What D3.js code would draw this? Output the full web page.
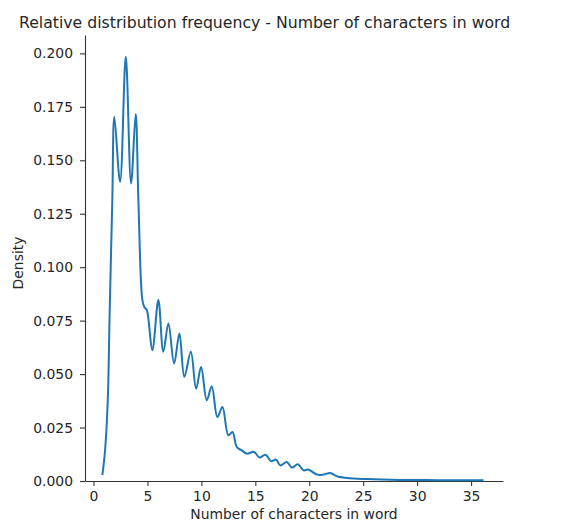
<!DOCTYPE html>
<html>
<head>
<meta charset="utf-8">
<script src="https://cdn.jsdelivr.net/npm/d3@7"></script>
<style>
  body { margin: 0; background: #fff; }
  text { font-family: "DejaVu Sans", sans-serif; fill: #262626; }
</style>
</head>
<body>
<div id="chart"></div>
<script>
// KDE curve: word length -> density
var wordLength = [0.82, 1.07, 1.32, 1.50, 1.74, 1.93, 2.46, 2.99, 3.48, 3.91, 4.16, 4.53, 4.71, 4.94,
  5.45, 6.01, 6.47, 6.94, 7.47, 7.96, 8.42, 9.02, 9.51, 9.97, 10.50, 10.96, 11.48, 11.95,
  12.50, 12.88, 13.28, 13.75, 14.21, 14.89, 15.38, 15.94, 16.47, 16.93, 17.30, 17.92,
  18.39, 18.94, 19.46, 19.94, 20.71, 21.32, 21.94, 22.56, 23.49, 25.34, 28.43, 32.0, 36.16];
var density = [0.0027, 0.0144, 0.0378, 0.0799, 0.131, 0.1703, 0.1399, 0.1984, 0.1392, 0.1716, 0.131, 0.0846, 0.0814, 0.0799,
  0.0612, 0.0846, 0.0604, 0.0737, 0.0549, 0.0690, 0.0487, 0.0604, 0.0432, 0.0533, 0.0378, 0.0443, 0.0299, 0.0346,
  0.0214, 0.0229, 0.0159, 0.0143, 0.0128, 0.0136, 0.0110, 0.0123, 0.0092, 0.0100, 0.0073, 0.0089,
  0.0063, 0.0078, 0.0050, 0.0053, 0.0030, 0.0030, 0.0037, 0.0022, 0.0014, 0.0009, 0.0005, 0.0004, 0.0003];

var xTicks = [0, 5, 10, 15, 20, 25, 30, 35];
var yTicks = [0, 0.025, 0.05, 0.075, 0.1, 0.125, 0.15, 0.175, 0.2];

var margin = {top: 35, right: 66, bottom: 42, left: 85},
  width = 569 - margin.left - margin.right,
  height = 523 - margin.top - margin.bottom;

var root = d3.select("#chart")
  .append("svg")
    .attr("width", 569)
    .attr("height", 523);

var svg = root.append("g")
    .attr("transform", "translate(" + margin.left + "," + margin.top + ")");

var x = d3.scaleLinear()
  .domain([-0.79, 37.96])
  .range([0, width]);

var y = d3.scaleLinear()
  .domain([0, 0.2086])
  .range([height, 0]);

// axes
var xAxis = svg.append("g")
  .attr("transform", "translate(0," + height + ")")
  .call(d3.axisBottom(x).tickValues(xTicks).tickSize(5).tickPadding(5).tickSizeOuter(0));

var yAxis = svg.append("g")
  .call(d3.axisLeft(y).tickValues(yTicks).tickFormat(d3.format(".3f")).tickSize(5).tickPadding(7).tickSizeOuter(0));

[xAxis, yAxis].forEach(function(a) {
  a.select(".domain").attr("stroke", "#333").attr("stroke-width", 1.1);
  a.selectAll(".tick line").attr("stroke", "#333").attr("stroke-width", 1.1);
  a.selectAll("text").style("font-size", "13.9px").attr("fill", "#262626");
});

// density line
var data = wordLength.map(function(v, i) { return [v, density[i]]; });
svg.append("path")
  .datum(data)
  .attr("fill", "none")
  .attr("stroke", "#1f77b4")
  .attr("stroke-width", 2)
  .attr("stroke-linejoin", "round")
  .attr("d", d3.line()
    .x(function(d) { return x(d[0]); })
    .y(function(d) { return y(d[1]); })
    .curve(d3.curveCatmullRom.alpha(0.5)));

// title and labels
root.append("text")
  .attr("x", 19)
  .attr("y", 28)
  .style("font-size", "15.7px")
  .text("Relative distribution frequency - Number of characters in word");

root.append("text")
  .attr("x", margin.left + width / 2)
  .attr("y", 519)
  .attr("text-anchor", "middle")
  .style("font-size", "13.9px")
  .text("Number of characters in word");

root.append("text")
  .attr("transform", "translate(23,263) rotate(-90)")
  .attr("text-anchor", "middle")
  .style("font-size", "13.9px")
  .text("Density");
</script>
</body>
</html>
